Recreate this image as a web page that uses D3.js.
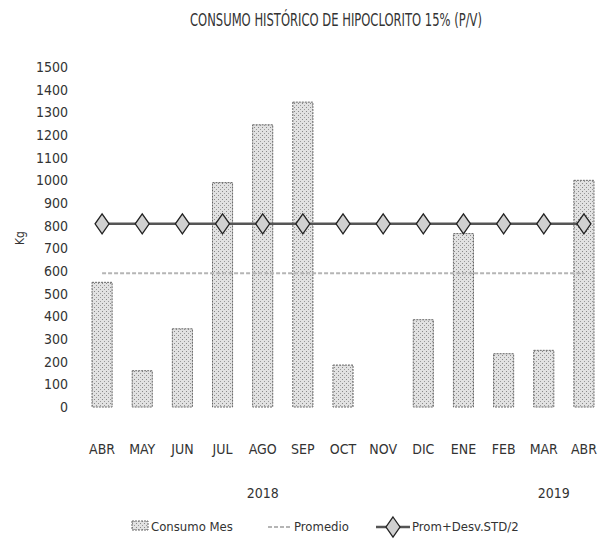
<!DOCTYPE html>
<html>
<head>
    <meta charset="utf-8">
    <title>Consumo histórico de hipoclorito</title>
    <script src="https://cdn.jsdelivr.net/npm/d3@7"></script>
    <style>
        body { margin: 0; background: #fff; }
        text { font-family: "DejaVu Sans", sans-serif; font-stretch: condensed; fill: #333; }
    </style>
</head>
<body>
<div id="visDiv"></div>
<script>
    /* Data */
    var months = ["ABR", "MAY", "JUN", "JUL", "AGO", "SEP", "OCT", "NOV", "DIC", "ENE", "FEB", "MAR", "ABR"];
    var years = ["2018", "2018", "2018", "2018", "2018", "2018", "2018", "2018", "2018", "2019", "2019", "2019", "2019"];
    var consumoMes = [550, 160, 345, 990, 1245, 1345, 185, 0, 385, 765, 235, 250, 1000];
    var promedio = [590, 590, 590, 590, 590, 590, 590, 590, 590, 590, 590, 590, 590];
    var promDesv = [808, 808, 808, 808, 808, 808, 808, 808, 808, 808, 808, 808, 808];
    var yTicks = d3.range(0, 1501, 100);

    var W = 609, H = 548;
    var margin = { top: 67, right: 5, bottom: 141, left: 82 };
    var width = W - margin.left - margin.right,
        height = H - margin.top - margin.bottom;

    var svg = d3.select("#visDiv").append("svg")
        .attr("width", W).attr("height", H);

    // dotted texture for the bars (looks like the scanned fill)
    var defs = svg.append("defs");
    var pat = defs.append("pattern")
        .attr("id", "dots").attr("width", 4).attr("height", 4)
        .attr("patternUnits", "userSpaceOnUse");
    pat.append("rect").attr("width", 4).attr("height", 4).attr("fill", "#e2e2e2");
    pat.append("rect").attr("x", 0).attr("y", 0).attr("width", 1).attr("height", 1).attr("fill", "#888");
    pat.append("rect").attr("x", 2).attr("y", 2).attr("width", 1).attr("height", 1).attr("fill", "#999");

    var g = svg.append("g")
        .attr("transform", "translate(" + margin.left + "," + margin.top + ")");

    var idx = d3.range(months.length);
    var x = d3.scaleBand().domain(idx).range([0, width]).paddingInner(0.5).paddingOuter(0.25);
    var y = d3.scaleLinear().domain([0, 1500]).range([height, 0]);

    /* Title (tall, narrow lettering as in the original) */
    svg.append("text")
        .attr("x", 190).attr("y", 26)
        .attr("textLength", 292)
        .attr("lengthAdjust", "spacingAndGlyphs")
        .style("font-size", "17px")
        .text("CONSUMO HISTÓRICO DE HIPOCLORITO 15% (P/V)");

    /* Y axis (labels only) */
    var yAxis = d3.axisLeft(y).tickValues(yTicks).tickFormat(d3.format("d")).tickSize(0).tickPadding(14);
    g.append("g").call(yAxis)
        .call(function (s) { s.select(".domain").remove(); })
        .selectAll("text").style("font-size", "14px").attr("fill", "#333");

    svg.append("text")
        .attr("transform", "translate(24,238) rotate(-90)")
        .attr("text-anchor", "middle")
        .style("font-size", "12px")
        .text("Kg");

    /* Bars */
    g.selectAll(".bar")
        .data(consumoMes)
        .enter().append("rect")
        .attr("class", "bar")
        .attr("x", function (d, i) { return x(i); })
        .attr("y", function (d) { return y(d); })
        .attr("width", x.bandwidth())
        .attr("height", function (d) { return height - y(d); })
        .attr("fill", "url(#dots)")
        .attr("stroke", function (d) { return d > 0 ? "#666" : "none"; })
        .attr("stroke-width", 1)
        .attr("stroke-dasharray", "2,1");

    var cx = function (i) { return x(i) + x.bandwidth() / 2; };

    /* Promedio line */
    g.append("path")
        .datum(promedio)
        .attr("fill", "none")
        .attr("stroke", "#b5b5b5")
        .attr("stroke-width", 2)
        .attr("stroke-dasharray", "4,2")
        .attr("d", d3.line().x(function (d, i) { return cx(i); }).y(function (d) { return y(d); }));

    /* Prom+Desv.STD/2 line */
    g.append("path")
        .datum(promDesv)
        .attr("fill", "none")
        .attr("stroke", "#555")
        .attr("stroke-width", 2.5)
        .attr("d", d3.line().x(function (d, i) { return cx(i); }).y(function (d) { return y(d); }));

    var diamond = "M0,-10L7,0L0,10L-7,0Z";
    g.selectAll(".dm")
        .data(promDesv)
        .enter().append("path")
        .attr("class", "dm")
        .attr("transform", function (d, i) { return "translate(" + cx(i) + "," + y(d) + ")"; })
        .attr("d", diamond)
        .attr("fill", "#d0d0d0")
        .attr("stroke", "#222")
        .attr("stroke-width", 1.3);

    /* Month labels */
    g.selectAll(".mlab")
        .data(months)
        .enter().append("text")
        .attr("class", "mlab")
        .attr("x", function (d, i) { return cx(i); })
        .attr("y", height + 47)
        .attr("text-anchor", "middle")
        .style("font-size", "14px")
        .text(function (d) { return d; });

    /* Year labels: 2018 centred on its months, 2019 sits further right
       in the original (its group runs past the last bar) */
    var yearGroups = d3.groups(idx, function (i) { return years[i]; });
    var step = x.step();
    g.selectAll(".ylab")
        .data(yearGroups)
        .enter().append("text")
        .attr("class", "ylab")
        .attr("x", function (d, k) {
            var c = (cx(d[1][0]) + cx(d[1][d[1].length - 1])) / 2;
            return k === 0 ? c : c + step * 0.75;
        })
        .attr("y", height + 91)
        .attr("text-anchor", "middle")
        .style("font-size", "14px")
        .text(function (d) { return d[0]; });

    /* Legend */
    var lg = svg.append("g").attr("transform", "translate(0,527)");
    lg.append("rect").attr("x", 132).attr("y", -6).attr("width", 16).attr("height", 9)
        .attr("fill", "url(#dots)").attr("stroke", "#666").attr("stroke-dasharray", "2,1");
    lg.append("text").attr("x", 151).attr("y", 4).style("font-size", "13px").text("Consumo Mes");

    lg.append("line").attr("x1", 268).attr("x2", 292).attr("y1", 0).attr("y2", 0)
        .attr("stroke", "#b5b5b5").attr("stroke-width", 2).attr("stroke-dasharray", "4,2");
    lg.append("text").attr("x", 294).attr("y", 4).style("font-size", "13px").text("Promedio");

    lg.append("line").attr("x1", 376).attr("x2", 410).attr("y1", 0).attr("y2", 0)
        .attr("stroke", "#555").attr("stroke-width", 2.5);
    lg.append("path").attr("transform", "translate(393,0)").attr("d", diamond)
        .attr("fill", "#d0d0d0").attr("stroke", "#222").attr("stroke-width", 1.3);
    lg.append("text").attr("x", 412).attr("y", 4).style("font-size", "13px").text("Prom+Desv.STD/2");
</script>
</body>
</html>
